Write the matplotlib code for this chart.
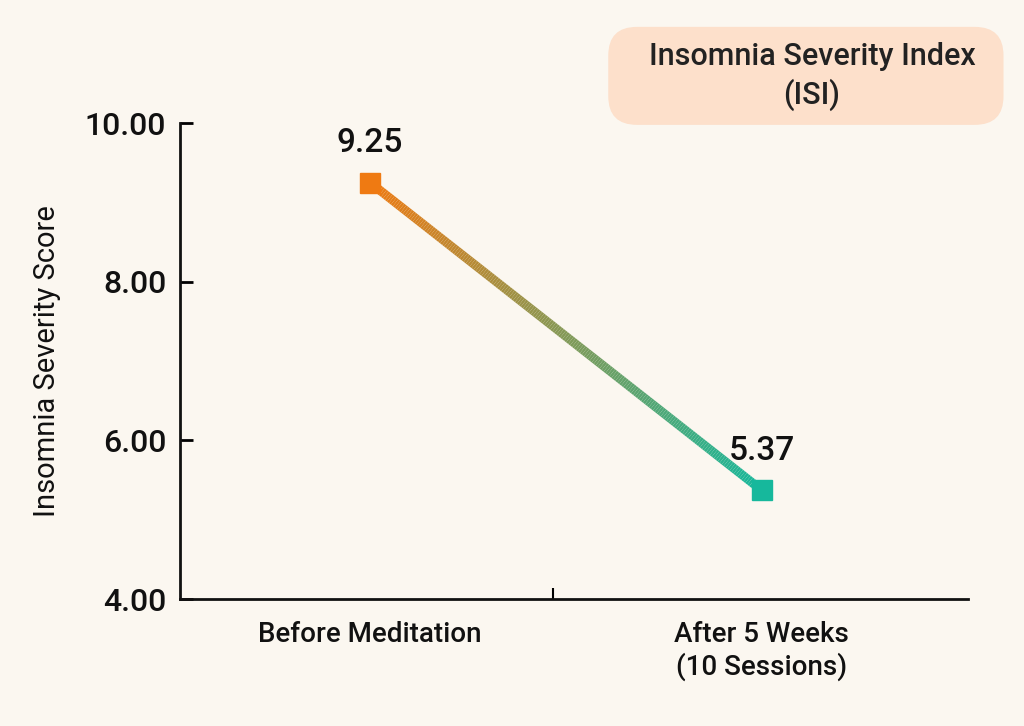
import numpy as np
import matplotlib
matplotlib.use("Agg")
import matplotlib.pyplot as plt
from matplotlib.collections import LineCollection
from matplotlib.colors import to_rgb
from matplotlib.patches import FancyBboxPatch

plt.rcParams['font.family'] = ['Roboto', 'DejaVu Sans']
plt.rcParams['font.weight'] = 'medium'

# data
categories = ["Before Meditation", "After 5 Weeks\n(10 Sessions)"]
isi_scores = [9.25, 5.37]
y_ticks = [4.0, 6.0, 8.0, 10.0]

BG = '#fbf7f0'
C_START = '#ef7a12'
C_END = '#16b89c'

fig = plt.figure(figsize=(10.24, 7.26), dpi=100)
fig.patch.set_facecolor(BG)
ax = fig.add_axes([0.1758, 0.1749, 0.7695, 0.6556])
ax.set_facecolor(BG)

x = np.arange(len(categories))

# gradient line between the two points
n = 200
xs = np.linspace(x[0], x[1], n)
ys = np.interp(xs, x, isi_scores)
pts = np.column_stack([xs, ys]).reshape(-1, 1, 2)
segs = np.concatenate([pts[:-1], pts[1:]], axis=1)
c0, c1 = np.array(to_rgb(C_START)), np.array(to_rgb(C_END))
t = np.linspace(0, 1, n - 1)[:, None]
lc = LineCollection(segs, colors=c0 * (1 - t) + c1 * t, linewidths=6.5,
                    capstyle='butt', zorder=2)
ax.add_collection(lc)

for xi, yi, col in zip(x, isi_scores, [C_START, C_END]):
    ax.plot(xi, yi, marker='s', markersize=15, color=col, zorder=3)
    ax.annotate(f"{yi:.2f}", (xi, yi), xytext=(0, 17), textcoords='offset points',
                ha='center', va='bottom', fontsize=24, color='#111111')

ax.set_xlim(-0.485, 1.526)
ax.set_ylim(4, 10)
ax.set_yticks(y_ticks)
ax.set_yticklabels([f"{v:.2f}" for v in y_ticks], fontsize=23, color='#111111')
ax.tick_params(axis='y', direction='in', length=9, width=2, pad=10)

ax.set_xticks([0.467])
ax.set_xticklabels([""])
ax.tick_params(axis='x', direction='in', length=8, width=1.5)
ax.set_xticks(x, minor=True)
ax.set_xticklabels(categories, minor=True, fontsize=20, color='#111111')
ax.tick_params(axis='x', which='minor', length=0, pad=16)

for s in ['top', 'right']:
    ax.spines[s].set_visible(False)
for s in ['left', 'bottom']:
    ax.spines[s].set_linewidth(2)
    ax.spines[s].set_color('#111111')

ax.set_ylabel("Insomnia Severity Score", fontsize=21, color='#111111', labelpad=17)

# title box
box = FancyBboxPatch((0.594, 0.828), 0.386, 0.135,
                     boxstyle="round,pad=0,rounding_size=0.028",
                     transform=fig.transFigure, facecolor='#fde0cb',
                     edgecolor='none', mutation_aspect=1.41)
fig.patches.append(box)
fig.text(0.793, 0.8946, "Insomnia Severity Index\n(ISI)", ha='center', va='center',
         fontsize=22, color='#222222', linespacing=1.3)

fig.savefig("out.png", dpi=100, facecolor=BG)
